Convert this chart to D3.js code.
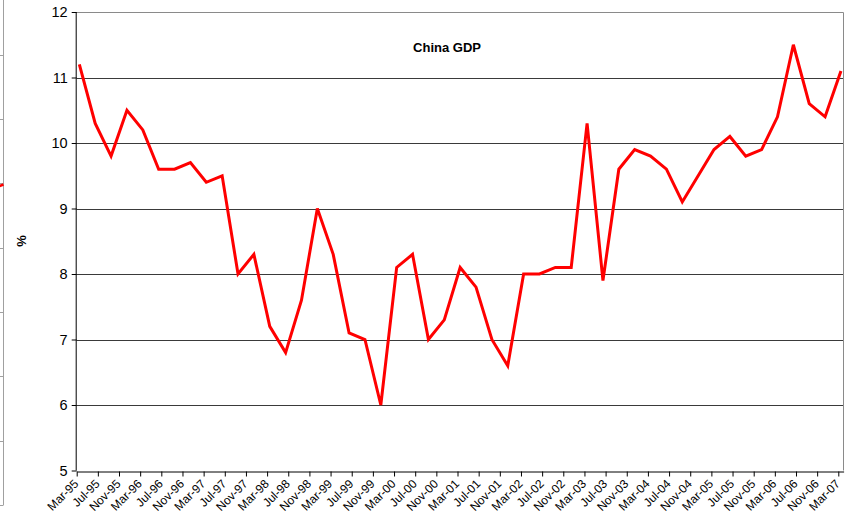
<!DOCTYPE html>
<html>
<head>
<meta charset="utf-8">
<script src="https://cdn.jsdelivr.net/npm/d3@7/dist/d3.min.js"></script>
<style>
  html, body { margin: 0; padding: 0; background: #fff; }
  svg { display: block; }
  text { font-family: "Liberation Sans", Arial, sans-serif; fill: #000; }
</style>
</head>
<body>
<svg id="chart" width="847" height="519"></svg>
<script>
// Quarterly observation months (YYYY-MM)
const periods = [
  "1995-03","1995-06","1995-09","1995-12",
  "1996-03","1996-06","1996-09","1996-12",
  "1997-03","1997-06","1997-09","1997-12",
  "1998-03","1998-06","1998-09","1998-12",
  "1999-03","1999-06","1999-09","1999-12",
  "2000-03","2000-06","2000-09","2000-12",
  "2001-03","2001-06","2001-09","2001-12",
  "2002-03","2002-06","2002-09","2002-12",
  "2003-03","2003-06","2003-09","2003-12",
  "2004-03","2004-06","2004-09","2004-12",
  "2005-03","2005-06","2005-09","2005-12",
  "2006-03","2006-06","2006-09","2006-12",
  "2007-03"
];

// Real GDP growth, % year on year
const gdpGrowth = [
  11.2, 10.3, 9.8, 10.5,
  10.2, 9.6, 9.6, 9.7,
  9.4, 9.5, 8.0, 8.3,
  7.2, 6.8, 7.6, 9.0,
  8.3, 7.1, 7.0, 6.0,
  8.1, 8.3, 7.0, 7.3,
  8.1, 7.8, 7.0, 6.6,
  8.0, 8.0, 8.1, 8.1,
  10.3, 7.9, 9.6, 9.9,
  9.8, 9.6, 9.1, 9.5,
  9.9, 10.1, 9.8, 9.9,
  10.4, 11.5, 10.6, 10.4,
  11.1
];

// Axis labels, one every four months
const xTickLabels = [
  "Mar-95","Jul-95","Nov-95","Mar-96","Jul-96","Nov-96","Mar-97","Jul-97","Nov-97",
  "Mar-98","Jul-98","Nov-98","Mar-99","Jul-99","Nov-99","Mar-00","Jul-00","Nov-00",
  "Mar-01","Jul-01","Nov-01","Mar-02","Jul-02","Nov-02","Mar-03","Jul-03","Nov-03",
  "Mar-04","Jul-04","Nov-04","Mar-05","Jul-05","Nov-05","Mar-06","Jul-06","Nov-06",
  "Mar-07"
];
const yTicks = [5, 6, 7, 8, 9, 10, 11, 12];

const chartTitle = "China GDP";
const yTitle = "%";

// ---- layout ----
const svg = d3.select("#chart");
const plotLeft = 76.7, plotRight = 843.6, plotTop = 12, plotBottom = 470.5;

// months counted from March 1995; each month is one slot, points sit mid-slot
const monthIndex = s => {
  const [yr, m] = s.split("-").map(Number);
  return (yr - 1995) * 12 + (m - 3);
};
const monthNames = {Jan:1,Feb:2,Mar:3,Apr:4,May:5,Jun:6,Jul:7,Aug:8,Sep:9,Oct:10,Nov:11,Dec:12};
const labelMonth = s => {
  const [mn, yy] = s.split("-");
  const yr = +yy < 50 ? 2000 + +yy : 1900 + +yy;
  return (yr - 1995) * 12 + (monthNames[mn] - 3);
};

const x = d3.scaleLinear().domain([0, 145]).range([plotLeft, plotRight]);
const y = d3.scaleLinear().domain([5, 12]).range([plotBottom, plotTop]);

// fragment of the neighbouring panel's axis at the far left edge
const sideScale = d3.scaleLinear().domain([0, 8]).range([505, -9.5]);
const side = svg.append("g").attr("transform", "translate(3.5,0)");
side.append("line").attr("x1", 0).attr("x2", 0).attr("y1", 0).attr("y2", 505)
  .attr("stroke", "#a0a0a0").attr("stroke-width", 1);
side.selectAll("line.t").data(d3.range(0, 9)).enter().append("line")
  .attr("class", "t")
  .attr("x1", -4).attr("x2", 0)
  .attr("y1", d => Math.round(sideScale(d)) + 0.5)
  .attr("y2", d => Math.round(sideScale(d)) + 0.5)
  .attr("stroke", "#a0a0a0");
side.append("line").attr("x1", -4).attr("x2", 0).attr("y1", 186).attr("y2", 184.5)
  .attr("stroke", "#ff0000").attr("stroke-width", 2.5);

// horizontal grid lines
svg.append("g").selectAll("line").data(yTicks.filter(v => v > 5 && v < 12)).enter()
  .append("line")
  .attr("x1", plotLeft).attr("x2", plotRight)
  .attr("y1", d => Math.round(y(d)) + 0.5).attr("y2", d => Math.round(y(d)) + 0.5)
  .attr("stroke", "#3a3a3a").attr("stroke-width", 1);

// plot area border (top and right)
svg.append("path")
  .attr("d", `M${plotLeft},${Math.round(plotTop) + 0.5}H${Math.round(plotRight) - 0.5}V${plotBottom}`)
  .attr("fill", "none").attr("stroke", "#8a8a8a").attr("stroke-width", 1);

// y axis
const yAxis = d3.axisLeft(y).tickValues(yTicks).tickSize(5).tickPadding(4)
  .tickFormat(d3.format("d"));
const gy = svg.append("g").attr("transform", `translate(${plotLeft},0)`).call(yAxis);
gy.selectAll(".tick line").attr("stroke", "#000");
gy.selectAll(".tick text").attr("font-size", "14.5px")
  .attr("font-family", "'Liberation Sans', Arial, sans-serif").attr("fill", "#000");
gy.select(".domain").attr("stroke", "#000").attr("d", `M${-0.5},${plotBottom}V${plotTop}`);

// x axis
const xAxis = d3.axisBottom(x)
  .tickValues(xTickLabels.map(labelMonth))
  .tickFormat((d, i) => xTickLabels[i])
  .tickSize(5).tickSizeOuter(0);
const gx = svg.append("g").attr("transform", `translate(0,${Math.round(plotBottom) + 0.5})`).call(xAxis);
gx.select(".domain").attr("stroke", "#000");
gx.selectAll(".tick line").attr("stroke", "#000");
gx.selectAll(".tick text")
  .attr("font-size", "12px")
  .attr("font-family", "'Liberation Sans', Arial, sans-serif")
  .attr("fill", "#000")
  .attr("text-anchor", "end")
  .attr("y", 0)
  .attr("dy", 0)
  .attr("transform", "translate(2,13) rotate(-45)");

// GDP growth line
const line = d3.line()
  .x((d, i) => x(monthIndex(periods[i]) + 0.5))
  .y(d => y(d));
svg.append("path").datum(gdpGrowth)
  .attr("d", line)
  .attr("fill", "none")
  .attr("stroke", "#ff0000")
  .attr("stroke-width", 3)
  .attr("stroke-linejoin", "miter");

// titles
svg.append("text").attr("x", 447).attr("y", 51.5)
  .attr("text-anchor", "middle").attr("font-size", "13px").attr("font-weight", "bold")
  .text(chartTitle);
svg.append("text")
  .attr("transform", "translate(26,241) rotate(-90)")
  .attr("text-anchor", "middle").attr("font-size", "13px").attr("font-weight", "bold")
  .text(yTitle);
</script>
</body>
</html>
